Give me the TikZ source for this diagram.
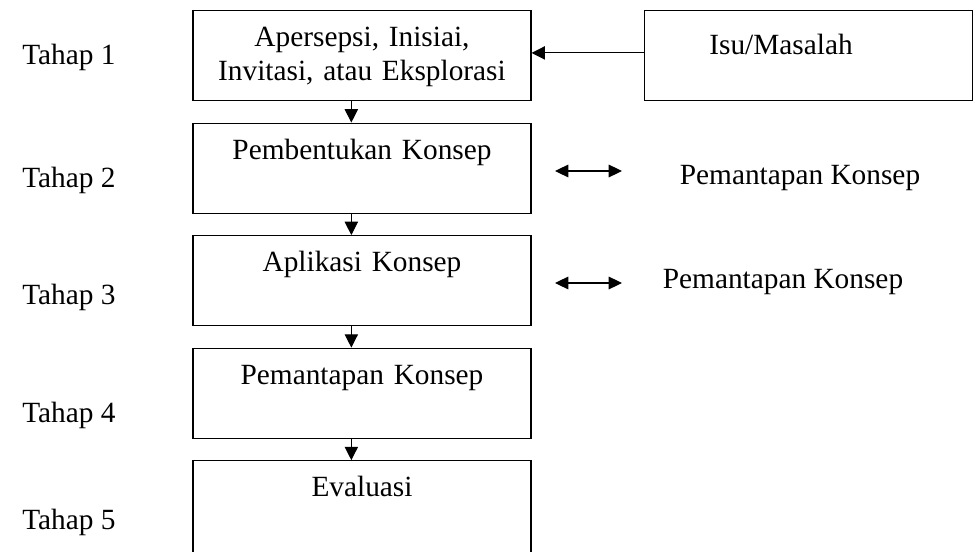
\documentclass[tikz,border=0pt]{standalone}
\usepackage{fontspec}
\setmainfont{Liberation Serif}
\usepackage{tikz}
\usetikzlibrary{arrows.meta, positioning}

\begin{document}
\begin{tikzpicture}[
    x=0.75pt, y=-0.75pt,
    font=\fontsize{22}{25.5}\selectfont,
    stagebox/.style={draw, line width=0.9pt, minimum width=253.5pt, minimum height=67.5pt, text width=240pt, align=center, inner ysep=0pt, text height=27pt, text depth=40.5pt},
    lbl/.style={inner sep=0pt},
    arr/.style={line width=0.8pt, -{Triangle[length=10pt, width=10pt]}},
    dbl/.style={line width=0.8pt, {Triangle[length=10pt, width=9.5pt]}-{Triangle[length=10pt, width=9.5pt]}}
]
  \useasboundingbox (0,0) rectangle (974,552);
  \clip (0,0) rectangle (974,552);

  % Stages (boxes, stacked)
  \node[stagebox, anchor=north] (box1) at (362,10) {Apersepsi, Inisiai,\\Invitasi, atau Eksplorasi};
  \node[stagebox, below=16pt of box1] (box2) {Pembentukan Konsep};
  \node[stagebox, below=16pt of box2] (box3) {Aplikasi Konsep};
  \node[stagebox, below=16pt of box3] (box4) {Pemantapan Konsep};
  \node[stagebox, below=16pt of box4, text depth=60pt] (box5) {Evaluasi};

  % Issue box on the right
  \node[draw, line width=0.9pt, minimum width=246pt, minimum height=67.5pt, anchor=north west] (isu) at (644,10) {};
  \node[lbl] (isutext) at (781,44) {Isu/Masalah};

  % Stage names (plain text)
  \node[lbl, anchor=west] (t1) at (22,57) {Tahap 1};
  \node[lbl, anchor=west] (t2) at (22,180) {Tahap 2};
  \node[lbl, anchor=west] (t3) at (22,297) {Tahap 3};
  \node[lbl, anchor=west] (t4) at (22,415) {Tahap 4};
  \node[lbl, anchor=west] (t5) at (22,522) {Tahap 5};

  % Side labels
  \node[lbl] (pk2) at (800,178) {Pemantapan Konsep};
  \node[lbl] (pk3) at (783,282) {Pemantapan Konsep};
  \coordinate (a2) at (555,171);
  \coordinate (b2) at (622,171);
  \coordinate (a3) at (555,283);
  \coordinate (b3) at (622,283);

  % Arrows
  \draw[arr] ([yshift=2pt]isu.west) -- ([yshift=2pt]box1.east);
  \draw[arr] ([xshift=-8pt]box1.south) -- ([xshift=-8pt]box2.north);
  \draw[arr] ([xshift=-8pt]box2.south) -- ([xshift=-8pt]box3.north);
  \draw[arr] ([xshift=-8pt]box3.south) -- ([xshift=-8pt]box4.north);
  \draw[arr] ([xshift=-8pt]box4.south) -- ([xshift=-8pt]box5.north);
  \draw[dbl] (a2) -- (b2);
  \draw[dbl] (a3) -- (b3);

\end{tikzpicture}
\end{document}
